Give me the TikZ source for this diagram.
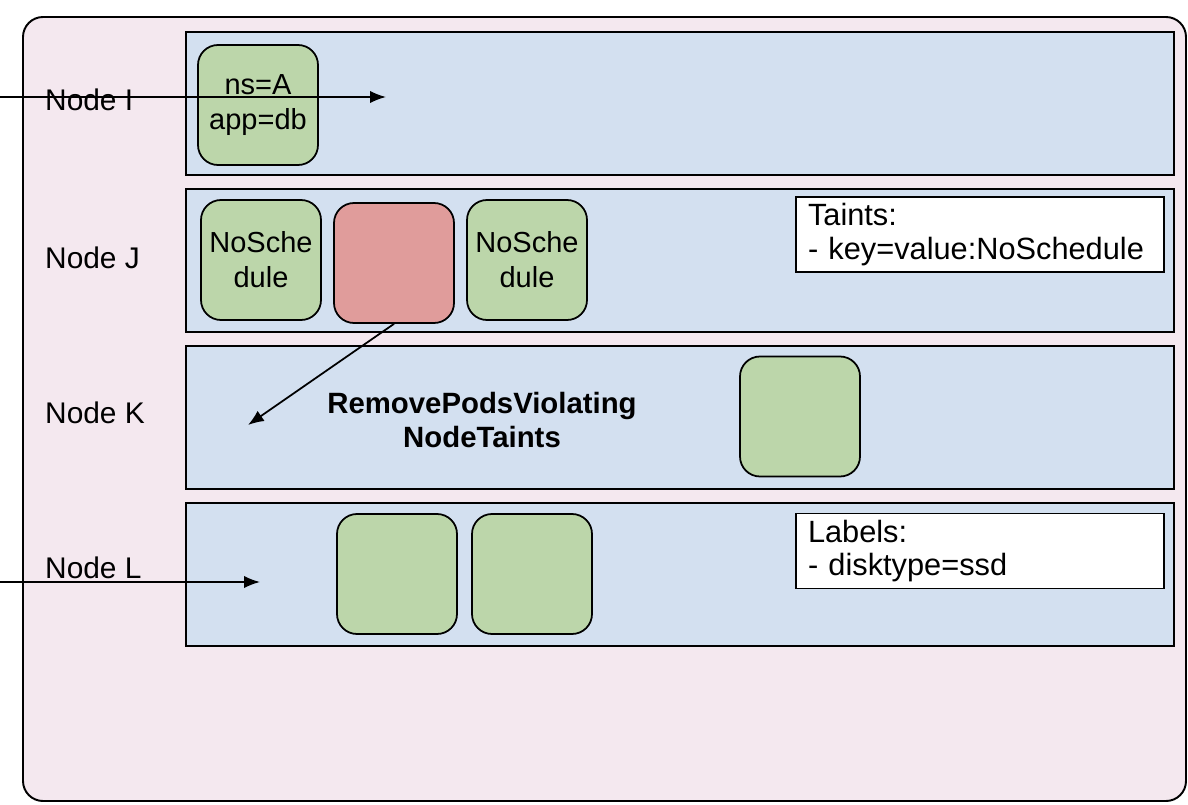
\documentclass[tikz,border=0pt]{standalone}
\usepackage{fontspec}
\setmainfont{Liberation Sans}
\usetikzlibrary{positioning, arrows.meta}
\definecolor{clusterpink}{HTML}{F4E8EF}
\definecolor{nodeblue}{HTML}{D3E0F0}
\definecolor{podgreen}{HTML}{BCD6AA}
\definecolor{podred}{HTML}{E09C9B}

\begin{document}
\begin{tikzpicture}[node distance=3.14cm,
    cluster/.style={draw, line width=1.1pt, fill=clusterpink, rounded corners=0.4cm,
      minimum width=23.26cm, minimum height=15.68cm},
    worker/.style={draw, line width=1.1pt, fill=nodeblue,
      minimum width=19.76cm, minimum height=2.86cm},
    pod/.style={draw, line width=1pt, fill=podgreen, rounded corners=0.4cm,
      minimum width=2.4cm, minimum height=2.4cm, inner sep=0pt, align=center,
      font=\fontsize{16.5pt}{20pt}\selectfont},
    info/.style={draw, line width=1.1pt, fill=white, text width=6.88cm,
      inner xsep=0.24cm, minimum height=1.5cm, align=left,
      font=\fontsize{17.5pt}{19pt}\selectfont},
    rowlabel/.style={anchor=west, font=\fontsize{17pt}{19.5pt}\selectfont},
    strategy/.style={align=center, font=\fontsize{16.7pt}{19pt}\selectfont\bfseries},
    link/.style={line width=1pt, -{Latex[length=9pt,width=7pt]}}]
    \useasboundingbox (0,0) rectangle (23.76,-16.08);
    \node[cluster] (cluster) at (12.09,-8.18) {};
    % worker nodes
    \node[worker] (nodeI) at (13.6,-2.07) {};
    \node[worker, below of=nodeI] (nodeJ) {};
    \node[worker, below of=nodeJ] (nodeK) {};
    \node[worker, below of=nodeK] (nodeL) {};
    \node[rowlabel] (labI) at (0.78,-2.0) {Node I};
    \node[rowlabel] (labJ) at (0.78,-5.16) {Node J};
    \node[rowlabel] (labK) at (0.78,-8.26) {Node K};
    \node[rowlabel] (labL) at (0.78,-11.36) {Node L};
    % pods
    \node[pod] (podI1) at (5.16,-2.1) {ns=A\\app=db};
    \node[pod] (podJ1) at (5.22,-5.2) {NoSche\\dule};
    \node[pod, fill=podred, node distance=2.66cm, right of=podJ1, yshift=-0.06cm] (podJ2) {};
    \node[pod, node distance=5.32cm, right of=podJ1] (podJ3) {NoSche\\dule};
    \node[pod] (podK1) at (16.0,-8.33) {};
    \node[pod] (podL1) at (7.94,-11.48) {};
    \node[pod, node distance=2.7cm, right of=podL1] (podL2) {};
    \node[info] (taints) at (19.6,-4.69) {Taints:\\- key=value:NoSchedule};
    \node[info] (labels) at (19.6,-11.02) {Labels:\\- disktype=ssd};
    \node[strategy] (rule) at (9.64,-8.4) {RemovePodsViolating\\NodeTaints};
    % arrows
    \coordinate (inI) at (0,-1.94);
    \coordinate (endI) at (7.72,-1.94);
    \coordinate (evicted) at (4.96,-8.5);
    \coordinate (inL) at (0,-11.64);
    \coordinate (endL) at (5.2,-11.64);
    \draw[link] (inI) -- (endI);
    \draw[link] (podJ2.south) -- (evicted);
    \draw[link] (inL) -- (endL);
\end{tikzpicture}
\end{document}
